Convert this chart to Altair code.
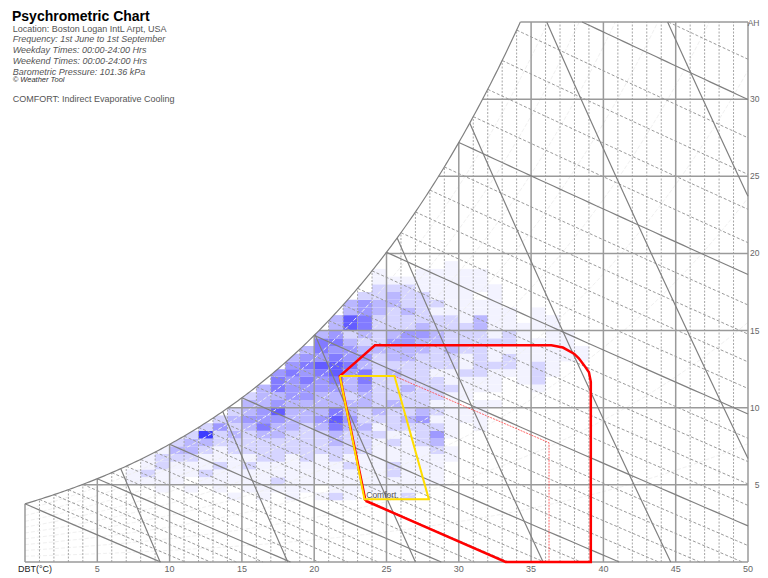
import math
import altair as alt
import pandas as pd

# ---------------- data ----------------
PRESSURE_KPA = 101.36
DBT_TICKS = [5, 10, 15, 20, 25, 30, 35, 40, 45, 50]
AH_TICKS = [5, 10, 15, 20, 25, 30]
WB_TEMPS = list(range(0, 41))            # wet-bulb lines, every 1 degC
SV_VALUES = [0.800, 0.825, 0.850, 0.875, 0.900, 0.925, 0.950]  # m3/kg
RH_VALUES = [0.1, 0.2, 0.3, 0.4, 0.5, 0.6, 0.7, 0.8, 0.9]

# frequency cells: one string per 1 degC column (starting 7 degC),
# each char = shade level for 0.5 g/kg rows starting at 4.0 g/kg
HEAT_T0 = 7
HEAT_W0 = 4.0
HEAT_DW = 0.5
HEAT_COLUMNS = [
    "0011",                              # 7
    "001211",                            # 8
    "0111221",                           # 9
    "00111232",                          # 10
    "010112332",                         # 11
    "0012112372",                        # 12
    "01112112242",                       # 13
    "101111223232",                      # 14
    "01112122234332",                    # 15
    "111112223544333",                   # 16
    "01211222334643554",                 # 17
    "1111112223333444543",               # 18
    "01111222223334454543",              # 19
    "1011112223433344564553",            # 20
    "211112233565334566545433",          # 21
    "11112122234332334544326633",        # 22
    "011111222322334553432355442",       # 23
    "111111112123222222232222332211",    # 24
    "11122112122232223233432223321",     # 25
    "21111111123222322233442232221",     # 26
    "011111122243222222233432222111",    # 27
    "001111234212122212223322121111",    # 28
    "0000011011111121122322221111111",   # 29
    "0000000000110111211222211111110",   # 30
    "0000000001111011222222331101110",   # 31
    "0000000000001011121121111111",      # 32
    "0000000000000000122122111",         # 33
    "00000000000000011111111",           # 34
    "0000000000000012221110111",         # 35
    "000000000000000011111111",          # 36
    "0000000000000000001111",            # 37
    "00000000000000000011",              # 38
]

RED_ZONE_T = [23.55, 33.24, 39.13, 39.13, 39.0, 38.66, 38.3, 37.97, 37.2, 36.4, 24.2, 21.77, 23.55]
RED_ZONE_W = [3.97, 0.0, 0.0, 11.68, 12.3, 12.76, 13.2, 13.5, 13.9, 14.05, 14.05, 12.05, 3.97]
COMFORT_T = [21.77, 25.55, 27.93, 23.48, 21.77]
COMFORT_W = [12.05, 12.05, 4.06, 4.06, 12.05]
EXT_T = [21.77, 25.55, 36.24, 36.24, 33.24, 23.48, 21.77]
EXT_W = [12.05, 12.05, 7.73, 0.0, 0.0, 4.06, 12.05]

TITLE = "Psychrometric Chart"
INFO_LINES = [
    "Location: Boston Logan IntL Arpt, USA",
    "Frequency: 1st June to 1st September",
    "Weekday Times: 00:00-24:00 Hrs",
    "Weekend Times: 00:00-24:00 Hrs",
    "Barometric Pressure: 101.36 kPa",
    "© Weather Tool",
    "COMFORT: Indirect Evaporative Cooling",
]
INFO_STYLES = ["normal", "italic", "italic", "italic", "italic", "tool", "normal"]

T_MAX, W_MAX = 50.0, 35.0

# ---------------- psychrometric helpers ----------------
def pws(t):
    T = t + 273.15
    ln = (-5.8002206e3 / T + 1.3914993 - 4.8640239e-2 * T + 4.1764768e-5 * T ** 2
          - 1.4452093e-8 * T ** 3 + 6.5459673 * math.log(T))
    return math.exp(ln) / 1000.0


def w_from_p(pw):
    return 621.945 * pw / (PRESSURE_KPA - pw)


def wsat(t):
    return w_from_p(pws(t))


def tsat(w):
    lo, hi = -20.0, 80.0
    for _ in range(60):
        mid = (lo + hi) / 2
        if wsat(mid) < w:
            lo = mid
        else:
            hi = mid
    return (lo + hi) / 2


def inside(T, W):
    return (-1e-9 <= T <= T_MAX + 1e-9 and -1e-9 <= W <= W_MAX + 1e-9
            and W <= wsat(T) + 1e-6)


def trace(f, a, b, n=80):
    segs, pts = [], []
    prev_t, prev_in = None, None
    for i in range(n + 1):
        t = a + (b - a) * i / n
        T, W = f(t)
        ins = inside(T, W)
        if prev_t is not None and ins != prev_in:
            lo, hi = prev_t, t
            for _ in range(50):
                mid = (lo + hi) / 2
                if inside(*f(mid)) == prev_in:
                    lo = mid
                else:
                    hi = mid
            pts.append(f(lo if prev_in else hi))
            if prev_in:
                segs.append(pts)
                pts = []
        if ins:
            pts.append((T, W))
        prev_t, prev_in = t, ins
    if pts:
        segs.append(pts)
    return [s for s in segs if len(s) > 1]


def wb_w(t, twb):
    ws = wsat(twb) / 1000.0
    return 1000.0 * ((2501 - 2.326 * twb) * ws - 1.006 * (t - twb)) / (2501 + 1.86 * t - 4.186 * twb)


def sv_t(v, w):
    return v * PRESSURE_KPA / (0.287042 * (1 + 1.607858 * w / 1000.0)) - 273.15


# ---------------- build line tables ----------------
rows = {"dot": [], "grid": [], "psy": [], "wbdash": [], "rh": []}
counter = [0]


def add(kind, pts):
    counter[0] += 1
    for k, (T, W) in enumerate(pts):
        rows[kind].append({"T": T, "W": W, "id": counter[0], "ord": k})


for k in range(0, 51):
    top = min(wsat(k), W_MAX)
    add("grid" if k % 5 == 0 else "dot", [(k, 0.0), (k, top)])
for w in AH_TICKS:
    add("grid", [(tsat(w), w), (T_MAX, w)])
t35 = tsat(W_MAX)
add("grid", [(t35, W_MAX), (T_MAX, W_MAX)])
add("grid", [(0.0, 0.0), (T_MAX, 0.0)])

sat_pts = [(t35 * i / 200, wsat(t35 * i / 200)) for i in range(201)]
add("psy", sat_pts)

for twb in WB_TEMPS:
    for seg in trace(lambda t, twb=twb: (t, wb_w(t, twb)), twb, T_MAX, 40):
        add("psy" if twb % 5 == 0 else "wbdash", seg)

for v in SV_VALUES:
    for seg in trace(lambda w, v=v: (sv_t(v, w), w), 0.0, W_MAX, 60):
        add("psy", seg)

for rh in RH_VALUES:
    for seg in trace(lambda t, rh=rh: (t, w_from_p(rh * pws(t))), 0.0, T_MAX, 120):
        add("rh", seg)

cells = []
for ci, col in enumerate(HEAT_COLUMNS):
    for ri, ch in enumerate(col):
        lvl = int(ch)
        if lvl > 0:
            t0 = HEAT_T0 + ci
            w0 = HEAT_W0 + ri * HEAT_DW
            cells.append({"T": t0, "T2": t0 + 1, "W": w0, "W2": w0 + HEAT_DW, "level": lvl})
cells_df = pd.DataFrame(cells)

mask_df = pd.DataFrame({"T": [p[0] for p in sat_pts], "W": [p[1] for p in sat_pts],
                        "W2": [W_MAX] * len(sat_pts)})

# ---------------- chart ----------------
FONT = "Liberation Sans"
xs = alt.Scale(domain=[0, T_MAX], nice=False, zero=False)
ys = alt.Scale(domain=[0, W_MAX], nice=False, zero=False)
X = alt.X("T:Q", scale=xs, axis=None)
Y = alt.Y("W:Q", scale=ys, axis=None)


def line_layer(df, color, width, dash=None, opacity=1.0):
    kw = dict(color=color, strokeWidth=width, strokeCap="butt", opacity=opacity)
    if dash:
        kw["strokeDash"] = dash
    return alt.Chart(df).mark_line(**kw).encode(x=X, y=Y, detail="id:N", order="ord:Q")


def poly_df(ts, ws):
    return pd.DataFrame({"T": ts, "W": ws, "id": [1] * len(ts), "ord": list(range(len(ts)))})


heat = alt.Chart(cells_df).mark_rect(strokeWidth=0).encode(
    x=X, x2="T2:Q", y=Y, y2="W2:Q",
    color=alt.Color("level:Q", scale=alt.Scale(domain=[1, 7], range=["#f3f3ff", "#3c3cff"]), legend=None),
)
mask = alt.Chart(mask_df).mark_area(color="white", opacity=1).encode(x=X, y=Y, y2="W2:Q")

layers = [
    heat,
    mask,
    line_layer(pd.DataFrame(rows["rh"]), "#f0f0f0", 1.0, [4, 2]),
    line_layer(pd.DataFrame(rows["dot"]), "#a6a6a6", 1.0, [2, 1.5]),
    line_layer(pd.DataFrame(rows["wbdash"]), "#9a9a9a", 1.0, [3, 2]),
    line_layer(pd.DataFrame(rows["grid"]), "#9a9a9a", 1.5),
    line_layer(pd.DataFrame(rows["psy"]), "#808080", 1.2),
    line_layer(poly_df(EXT_T, EXT_W), "#ff4040", 0.8, [2, 1]),
    line_layer(poly_df(RED_ZONE_T, RED_ZONE_W), "#ff0000", 2.5),
    line_layer(poly_df(COMFORT_T, COMFORT_W), "#ffdd00", 2.0),
]

# axis labels
bt = pd.DataFrame({"T": DBT_TICKS, "W": [0.0] * len(DBT_TICKS)})
layers.append(alt.Chart(bt).mark_text(font=FONT, fontSize=9, color="#666666", baseline="alphabetic", dy=10).encode(
    x=X, y=Y, text=alt.Text("T:Q")))
rt = pd.DataFrame({"T": [T_MAX] * len(AH_TICKS), "W": AH_TICKS})
layers.append(alt.Chart(rt).mark_text(font=FONT, fontSize=8.5, color="#666666", align="right", baseline="middle",
                                     dx=11.5).encode(x=X, y=Y, text=alt.Text("W:Q")))
one = pd.DataFrame({"T": [T_MAX], "W": [W_MAX]})
layers.append(alt.Chart(one).mark_text(font=FONT, fontSize=8.5, color="#666666", align="right", baseline="middle",
                                      dx=11.5, dy=1, text="AH").encode(x=X, y=Y))
zero = pd.DataFrame({"T": [0.0], "W": [0.0]})
layers.append(alt.Chart(zero).mark_text(font=FONT, fontSize=9, color="#222222", align="left", baseline="alphabetic",
                                       dx=-7, dy=10, text="DBT(°C)").encode(x=X, y=Y))
lab = pd.DataFrame({"T": [23.6], "W": [4.06]})
layers.append(alt.Chart(lab).mark_text(font=FONT, fontSize=8.5, color="#555555", align="left", baseline="alphabetic",
                                      dy=-1.5, text="Comfort.").encode(x=X, y=Y))

# header texts (pixel positions relative to plot origin)
dummy = pd.DataFrame({"a": [0]})
layers.append(alt.Chart(dummy).mark_text(font=FONT, fontSize=14, fontWeight="bold", color="#000000", align="left",
                                        baseline="alphabetic", text=TITLE).encode(x=alt.value(-13), y=alt.value(-1)))
INFO_Y = [9.5, 19.5, 31, 42, 52.5, 60, 80]
for txt, sty, yy in zip(INFO_LINES, INFO_STYLES, INFO_Y):
    kw = dict(font=FONT, fontSize=9, color="#555555", align="left", baseline="alphabetic", text=txt)
    if sty == "italic":
        kw["fontStyle"] = "italic"
    if sty == "tool":
        kw.update(fontStyle="italic", fontSize=7.5, color="#333333")
    layers.append(alt.Chart(dummy).mark_text(**kw).encode(x=alt.value(-12.3), y=alt.value(yy)))

chart = alt.layer(*layers).properties(
    width=723, height=540,
    autosize=alt.AutoSizeParams(type="none"),
    padding={"left": 17, "top": 14, "right": 12, "bottom": 20},
    background="white",
).configure_view(stroke=None)

chart.save("out.html", embed_options={"renderer": "svg", "actions": False})
